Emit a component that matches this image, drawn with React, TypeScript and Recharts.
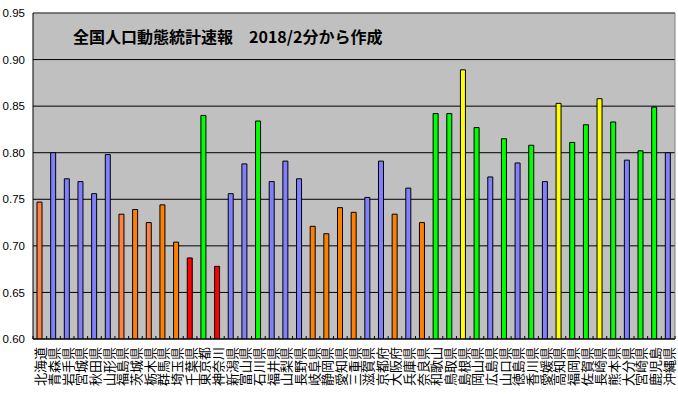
import { BarChart, Bar, XAxis, YAxis, CartesianGrid, ReferenceLine, Cell } from 'recharts';

const prefectures = [
  '北海道', '青森県', '岩手県', '宮城県', '秋田県', '山形県', '福島県', '茨城県', '栃木県', '群馬県',
  '埼玉県', '千葉県', '東京都', '神奈川', '新潟県', '富山県', '石川県', '福井県', '山梨県', '長野県',
  '岐阜県', '静岡県', '愛知県', '三重県', '滋賀県', '京都府', '大阪府', '兵庫県', '奈良県', '和歌山',
  '鳥取県', '島根県', '岡山県', '広島県', '山口県', '徳島県', '香川県', '愛媛県', '高知県', '福岡県',
  '佐賀県', '長崎県', '熊本県', '大分県', '宮崎県', '鹿児島', '沖縄県',
];

const ratios = [
  0.747, 0.800, 0.772, 0.769, 0.756, 0.798, 0.734, 0.739, 0.725, 0.744,
  0.704, 0.687, 0.840, 0.678, 0.756, 0.788, 0.834, 0.769, 0.791, 0.772,
  0.721, 0.713, 0.741, 0.736, 0.752, 0.791, 0.734, 0.762, 0.725, 0.842,
  0.842, 0.889, 0.827, 0.774, 0.815, 0.789, 0.808, 0.769, 0.853, 0.811,
  0.830, 0.858, 0.833, 0.792, 0.802, 0.849, 0.800,
];

const yTicks = [0.6, 0.65, 0.7, 0.75, 0.8, 0.85, 0.9, 0.95];

const data = prefectures.map((name, i) => ({ name, ratio: ratios[i] }));

// bars that were painted a lighter orange in the original sheet
const lightOrange = ['北海道', '福島県', '栃木県'];

function barColor(name: string, v: number) {
  if (v >= 0.85) return '#FFFF00';
  if (v > 0.8) return '#00FF00';
  if (v >= 0.75) return '#8080FF';
  if (v >= 0.7) return lightOrange.includes(name) ? '#FF8040' : '#FF8000';
  return '#FF0000';
}

const PLOT_W = 642;
const band = PLOT_W / prefectures.length;

const XTick = (props: any) => {
  const { x, y, payload, index } = props;
  const left = x - band / 2;
  return (
    <g>
      <line x1={left} y1={y} x2={left} y2={y - 3} stroke="#000" />
      {index === prefectures.length - 1 && (
        <line x1={x + band / 2} y1={y} x2={x + band / 2} y2={y - 3} stroke="#000" />
      )}
      <text
        x={x}
        y={y + 8}
        transform={`rotate(-90, ${x}, ${y + 8})`}
        textAnchor="end"
        dominantBaseline="central"
        fontSize={13}
        fontFamily="'Noto Sans CJK JP', sans-serif"
        fill="#000"
      >
        {payload.value}
      </text>
    </g>
  );
};

export default function App() {
  return (
    <div style={{ position: 'absolute', left: 0, top: 0, width: 678, height: 394, background: '#fff', overflow: 'hidden' }}>
      <BarChart width={678} height={394} data={data} margin={{ top: 13, right: 0, bottom: 0, left: 0 }}>
        <CartesianGrid vertical={false} stroke="#000" fill="#C0C0C0" fillOpacity={1} />
        <XAxis
          dataKey="name"
          interval={0}
          height={55}
          tickSize={0}
          tickMargin={0}
          tickLine={false}
          axisLine={{ stroke: '#000' }}
          tick={<XTick />}
        />
        <YAxis
          domain={[0.6, 0.95]}
          ticks={yTicks}
          allowDataOverflow
          width={33}
          tickLine={false}
          axisLine={{ stroke: '#000' }}
          tickFormatter={(v: number) => v.toFixed(2)}
          tick={{ fontSize: 11.5, fill: '#000', fontFamily: "'Liberation Sans', Arial, sans-serif" }}
        />
        <YAxis
          yAxisId="right"
          orientation="right"
          domain={[0.6, 0.95]}
          width={3}
          tick={false}
          tickLine={false}
          axisLine={{ stroke: '#808080' }}
        />
        <ReferenceLine y={0.95} stroke="#808080" />
        <Bar dataKey="ratio" barSize={5} stroke="#000" strokeWidth={1} isAnimationActive={false}>
          {data.map((d) => (
            <Cell key={d.name} fill={barColor(d.name, d.ratio)} />
          ))}
        </Bar>
      </BarChart>
      <div
        style={{
          position: 'absolute',
          left: 73,
          top: 28,
          fontSize: 16,
          lineHeight: '16px',
          fontWeight: 'bold',
          fontFamily: "'Noto Sans CJK JP', sans-serif",
          color: '#000',
          whiteSpace: 'nowrap',
        }}
      >
        全国人口動態統計速報　2018/2分から作成
      </div>
    </div>
  );
}
